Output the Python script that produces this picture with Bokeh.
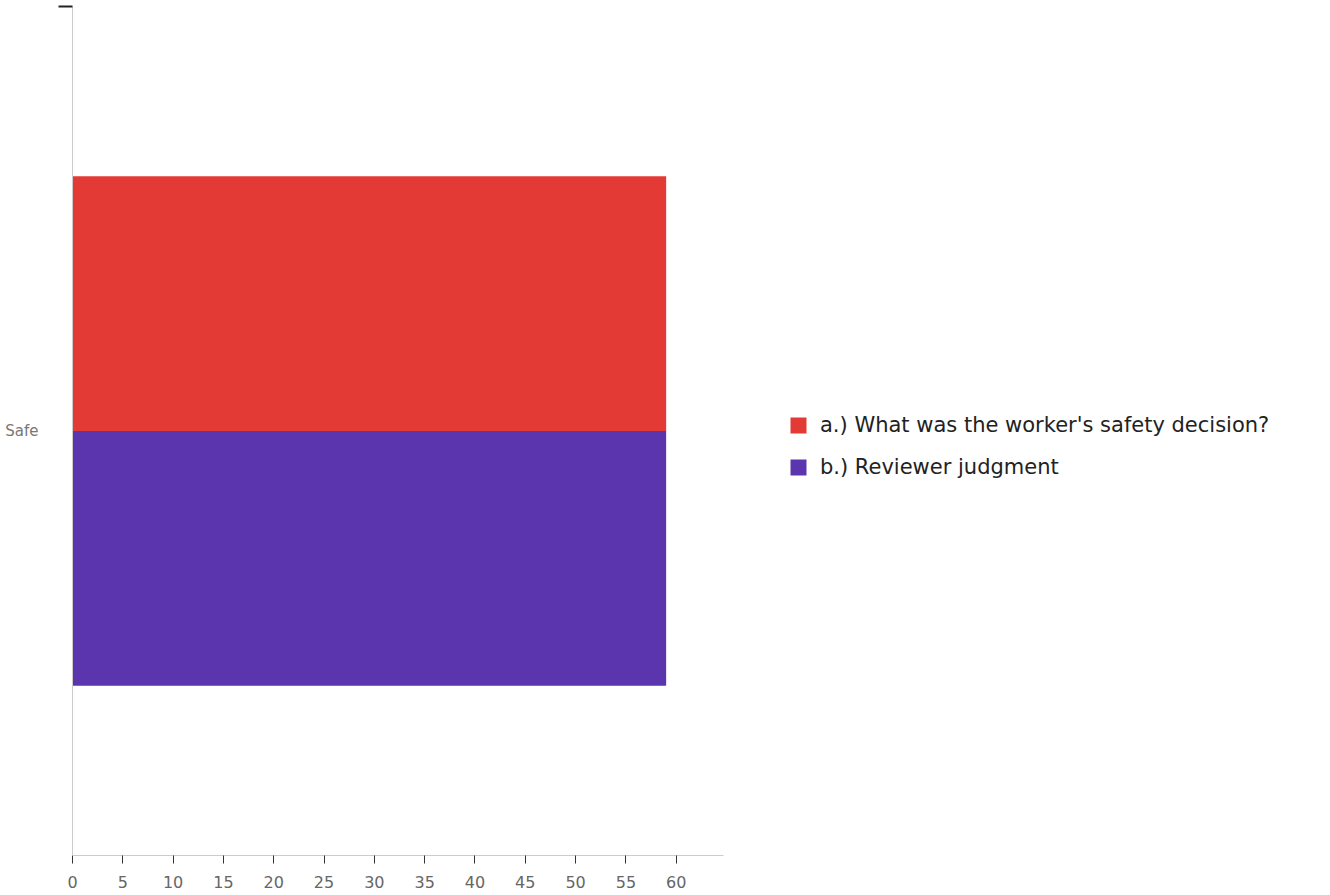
from bokeh.plotting import figure
from bokeh.models import (Range1d, FactorRange, LinearAxis, FixedTicker, Legend, LegendItem)
from bokeh.transform import dodge
from bokeh.embed import file_html
from bokeh.resources import INLINE

categories = ["Safe"]
worker_decision = [59]
reviewer_judgment = [59]
series_names = ["a.) What was the worker's safety decision?", "b.) Reviewer judgment"]
series_colors = ["#E33A35", "#5B35AD"]
x_ticks = [0, 5, 10, 15, 20, 25, 30, 35, 40, 45, 50, 55, 60]

FONT = "DejaVu Sans"

p = figure(frame_width=651, frame_height=849, output_backend="svg", toolbar_location=None,
           x_range=Range1d(0, 64.7), y_range=FactorRange(*categories, range_padding=0),
           y_axis_location=None, x_axis_location=None,
           min_border_left=72, min_border_right=0, min_border_top=6, min_border_bottom=33)
p.outline_line_color = None
p.grid.visible = False

src = dict(cat=categories, a=worker_decision, b=reviewer_judgment)
r1 = p.hbar(y=dodge("cat", 0.15, range=p.y_range), right="a", left=0, height=0.3,
            source=src, color=series_colors[0], line_color=None)
r2 = p.hbar(y=dodge("cat", -0.15, range=p.y_range), right="b", left=0, height=0.3,
            source=src, color=series_colors[1], line_color=None)

# y axis (category label at synthetic centre + tick at range top)
yax = LinearAxis(ticker=FixedTicker(ticks=[0.5], minor_ticks=[1.0]),
                 major_label_overrides={0.5: categories[0]})
yax.axis_line_color = "#cccccc"
yax.major_tick_line_color = None
yax.minor_tick_out = 14
yax.minor_tick_in = 0
yax.minor_tick_line_color = "#222222"
yax.minor_tick_line_width = 2
yax.major_label_text_color = "#777777"
yax.major_label_text_font = FONT
yax.major_label_text_font_size = "15px"
yax.major_label_standoff = 20
p.add_layout(yax, "left")

xax = LinearAxis(ticker=FixedTicker(ticks=x_ticks))
xax.axis_line_color = "#cccccc"
xax.major_tick_line_color = "#333333"
xax.major_tick_out = 8
xax.major_tick_in = 0
xax.minor_tick_line_color = None
xax.major_label_text_color = "#666666"
xax.major_label_text_font = FONT
xax.major_label_text_font_size = "16px"
xax.major_label_standoff = 12
p.add_layout(xax, "below")

legend = Legend(items=[LegendItem(label=series_names[0], renderers=[r1]),
                       LegendItem(label=series_names[1], renderers=[r2])],
                location=(65, 376))
legend.padding = 0
legend.margin = 0
legend.spacing = 18
legend.glyph_width = 20
legend.glyph_height = 20
legend.label_height = 20
legend.label_standoff = 12
legend.label_text_font = FONT
legend.label_text_font_size = "21px"
legend.label_text_color = "#222222"
legend.border_line_color = None
legend.background_fill_alpha = 0
p.add_layout(legend, "right")

open("out.html", "w").write(file_html(p, INLINE))
